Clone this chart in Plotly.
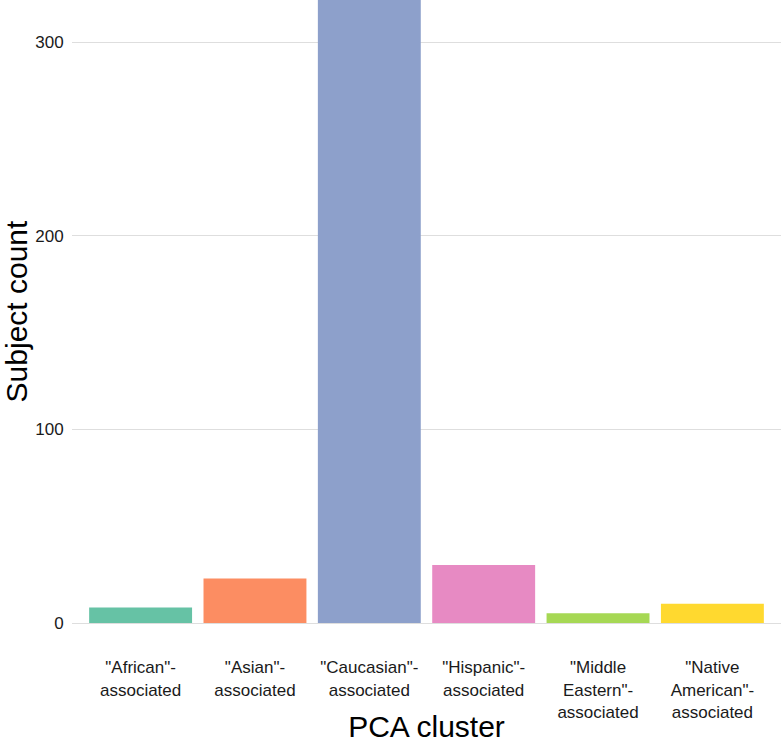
import plotly.graph_objects as go

categories = ['"African"-<br>associated', '"Asian"-<br>associated', '"Caucasian"-<br>associated',
              '"Hispanic"-<br>associated', '"Middle<br>Eastern"-<br>associated', '"Native<br>American"-<br>associated']
counts = [8, 23, 330, 30, 5, 10]
colors = ["#66C2A5", "#FC8D62", "#8DA0CB", "#E78AC3", "#A6D854", "#FFD92F"]
y_ticks = [0, 100, 200, 300]

fig = go.Figure(go.Bar(x=list(range(len(categories))), y=counts, marker_color=colors,
                       marker_line_width=0, width=0.9))

font = "Liberation Sans, Arial, sans-serif"
fig.update_layout(
    width=781, height=743,
    margin=dict(l=72, r=0, t=0, b=120),
    plot_bgcolor="white", paper_bgcolor="white",
    showlegend=False,
    font=dict(family=font, color="#1a1a1a"),
    xaxis=dict(
        tickmode="array", tickvals=list(range(len(categories))), ticktext=categories,
        range=[-0.6, 5.6], showgrid=False, zeroline=False, showline=False,
        ticks="outside", ticklen=29, tickcolor="rgba(0,0,0,0)",
        tickfont=dict(size=17, color="#1a1a1a"), tickangle=0,
        title=dict(text="PCA cluster", font=dict(size=30, color="black"), standoff=4),
        automargin=False,
    ),
    yaxis=dict(
        tickmode="array", tickvals=y_ticks, range=[0, 321.7],
        showgrid=True, gridcolor="#DEDEDE", gridwidth=1.2,
        zeroline=True, zerolinecolor="#DEDEDE", zerolinewidth=1.2, showline=False,
        ticks="outside", ticklen=4, tickcolor="rgba(0,0,0,0)",
        tickfont=dict(size=17, color="#1a1a1a"),
        title=dict(text="Subject count", font=dict(size=30, color="black"), standoff=15),
        automargin=False,
    ),
)

fig.write_html("out.html", config={"displayModeBar": False},
               post_script="document.body.style.margin='0px';")
